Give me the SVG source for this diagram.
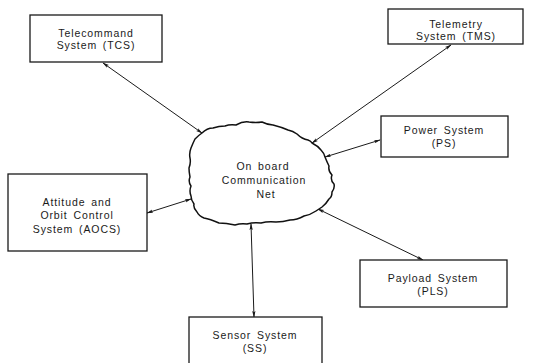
<svg xmlns="http://www.w3.org/2000/svg" width="541" height="363" viewBox="0 0 541 363">
<style>
.box{fill:#fff;stroke:#1a1a1a;stroke-width:1.3}
.t{font-family:"Liberation Sans",Arial,sans-serif;font-size:10.5px;letter-spacing:0.9px;word-spacing:2px;fill:#1a1a1a;text-anchor:middle}
.c{fill:none;stroke:#1a1a1a;stroke-width:1;marker-start:url(#ah);marker-end:url(#ah)}
.cloud{fill:#fff;stroke:#111;stroke-width:1.5;stroke-linejoin:round}
</style>
<defs>
<marker id="ah" viewBox="0 0 10 6" refX="9" refY="3" markerWidth="7" markerHeight="4" markerUnits="userSpaceOnUse" orient="auto-start-reverse">
<path d="M0,0.5 L10,3 L0,5.5 L2,3 Z" fill="#1a1a1a"/>
</marker>
</defs>
<rect width="541" height="363" fill="#fff"/>
<g id="connectors">
<line class="c" x1="103" y1="63" x2="202" y2="133"/>
<line class="c" x1="451" y1="45" x2="312" y2="143"/>
<line class="c" x1="380" y1="140" x2="325" y2="157"/>
<line class="c" x1="147" y1="213" x2="191" y2="199"/>
<line class="c" x1="251" y1="224" x2="254" y2="317"/>
<line class="c" x1="318" y1="209" x2="423" y2="260"/>
</g>
<g id="cloud">
<path class="cloud" d="M202,133 Q207,128 213,128 Q219,126 225,126 Q230,124 236,125 Q243,121 249,122 Q256,123 262,122 Q268,125 273,125 Q281,127 288,130 Q293,131 297,134 Q302,139 308,140 Q311,141 312,143 Q318,146 321,150 Q324,153 325,157 Q327,162 329,166 Q328,171 332,175 Q330,180 334,184 Q335,188 332,192 Q332,197 329,199 Q326,204 322,207 Q319,209 316,211 Q310,215 304,216 Q297,220 290,220 Q283,222 276,222 Q268,221 261,223 Q254,222 247,224 Q241,223 235,225 Q226,223 219,223 Q210,219 204,218 Q199,216 197,212 Q193,208 194,204 Q191,200 191,196 Q189,191 191,186 Q188,182 190,177 Q189,172 189,168 Q191,163 190,158 Q189,153 191,148 Q193,143 195,139 Q199,135 202,133 Z"/>
<text class="t" x="263" y="170">On board</text>
<text class="t" x="264" y="184">Communication</text>
<text class="t" x="266" y="198">Net</text>
</g>
<g id="tcs">
<rect class="box" x="30" y="15" width="132" height="47"/>
<text class="t" x="96" y="37">Telecommand</text>
<text class="t" x="96" y="49">System (TCS)</text>
</g>
<g id="tms">
<rect class="box" x="388" y="9" width="135" height="35"/>
<text class="t" x="456" y="28">Telemetry</text>
<text class="t" x="456" y="40">System (TMS)</text>
</g>
<g id="ps">
<rect class="box" x="381" y="116" width="127" height="41"/>
<text class="t" x="444" y="134">Power System</text>
<text class="t" x="444" y="147">(PS)</text>
</g>
<g id="aocs">
<rect class="box" x="8" y="174" width="139" height="77"/>
<text class="t" x="77" y="206">Attitude and</text>
<text class="t" x="77" y="219">Orbit Control</text>
<text class="t" x="77" y="233">System (AOCS)</text>
</g>
<g id="pls">
<rect class="box" x="360" y="260" width="147" height="47"/>
<text class="t" x="433" y="282">Payload System</text>
<text class="t" x="433" y="295">(PLS)</text>
</g>
<g id="ss">
<rect class="box" x="189" y="317" width="133" height="50"/>
<text class="t" x="255" y="339">Sensor System</text>
<text class="t" x="255" y="352">(SS)</text>
</g>
</svg>
